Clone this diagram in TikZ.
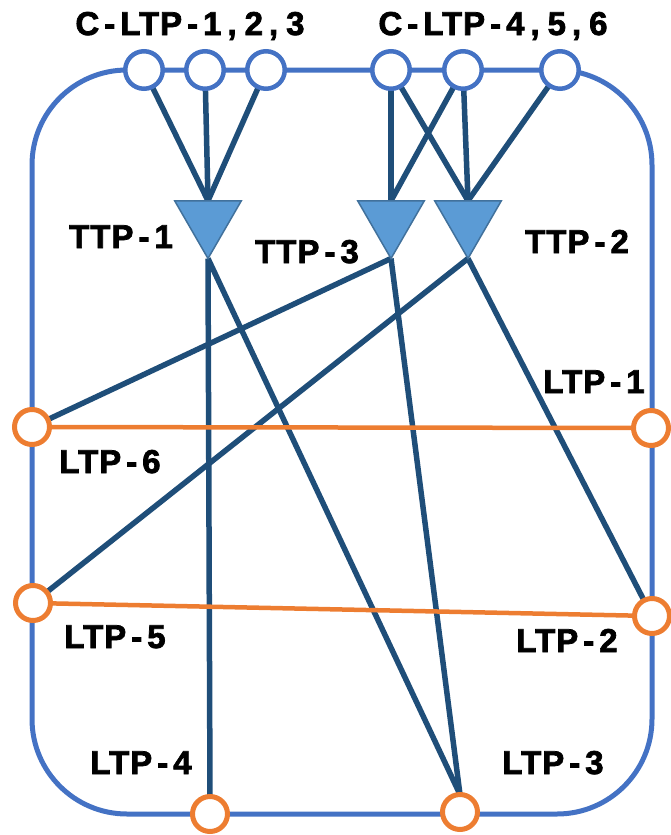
\documentclass[tikz,border=0pt]{standalone}
\usepackage{fontspec}
\setmainfont{Liberation Sans}
\newfontfamily\lblfont[LetterSpace=3,
  BoldFeatures={FakeBold=2.2}]{Liberation Sans}
\usetikzlibrary{shapes.geometric,backgrounds}
\definecolor{framecol}{HTML}{4472C4}
\definecolor{linkcol}{HTML}{1F4E79}
\definecolor{trifill}{HTML}{5B9BD5}
\definecolor{tribord}{HTML}{41719C}
\definecolor{ltpcol}{HTML}{ED7D31}
% widely spaced hyphen and comma used in the port names
\newcommand{\hy}{\kern5pt-\kern5pt}
\newcommand{\cm}{\kern6pt,\kern8pt}
\begin{document}
\begin{tikzpicture}[x=1pt,y=-1pt,
  frame/.style={draw=framecol, line width=5pt, rounded corners=95pt,
    minimum width=620pt, minimum height=744pt, inner sep=0pt, outer sep=0pt},
  cport/.style={circle, draw=framecol, fill=white, line width=4.5pt,
    minimum size=37.5pt, inner sep=0pt, outer sep=0pt},
  lport/.style={circle, draw=ltpcol, fill=white, line width=5pt,
    minimum size=35pt, inner sep=0pt, outer sep=0pt},
  ttp/.style={regular polygon, regular polygon sides=3, shape border rotate=180,
    draw=tribord, fill=trifill, line width=1.5pt, minimum size=77pt,
    inner sep=0pt, outer sep=0pt},
  link/.style={draw=linkcol, line width=5.5pt},
  ring/.style={draw=ltpcol, line width=4.5pt},
  lbl/.style={font=\lblfont\bfseries\fontsize{33}{33}\selectfont,
    anchor=base, inner sep=0pt}
]
\useasboundingbox (0,0) rectangle (671,835);

% client-side ports on the top edge
\node[cport] (c1) at (144,70) {};
\node[cport] (c2) at (205,70) {};
\node[cport] (c3) at (266,70) {};
\node[cport] (c4) at (391,70) {};
\node[cport] (c5) at (463,70) {};
\node[cport] (c6) at (560,70) {};

% line-side ports around the frame
\node[lport] (l6) at (32,427) {};
\node[lport] (l1) at (651,428) {};
\node[lport] (l5) at (33,603) {};
\node[lport] (l2) at (652,616) {};
\node[lport] (l4) at (210,814) {};
\node[lport] (l3) at (460,812) {};

% trail termination points
\node[ttp] (t1) at (208,220) {};
\node[ttp] (t3) at (391,220) {};
\node[ttp] (t2) at (468,220) {};

% labels
\node[lbl] (lc1) at (190,35) {C\hy LTP\hy 1\cm 2\cm 3};
\node[lbl] (lc2) at (493,35) {C\hy LTP\hy 4\cm 5\cm 6};
\node[lbl] (lt1) at (121,248) {TTP\hy 1};
\node[lbl] (lt3) at (307,263) {TTP\hy 3};
\node[lbl] (lt2) at (577,253) {TTP\hy 2};
\node[lbl] (ll1) at (594,393) {LTP\hy 1};
\node[lbl] (ll6) at (110,473) {LTP\hy 6};
\node[lbl] (ll5) at (115,648) {LTP\hy 5};
\node[lbl] (ll2) at (567,652) {LTP\hy 2};
\node[lbl] (ll4) at (141,774) {LTP\hy 4};
\node[lbl] (ll3) at (553,774) {LTP\hy 3};

\begin{pgfonlayer}{background}
  \node[frame] (box) at (342,442) {};
  % client ports to TTPs
  \draw[link] (c1) -- (t1.north);
  \draw[link] (c2) -- (t1.north);
  \draw[link] (c3) -- (t1.north);
  \draw[link] (c4) -- (t3.north);
  \draw[link] (c4) -- (t2.north);
  \draw[link] (c5) -- (t3.north);
  \draw[link] (c5) -- (t2.north);
  \draw[link] (c6) -- (t2.north);
  % TTPs to line ports
  \draw[link] (t1.south) -- (l4.north);
  \draw[link] (t1.south) -- (l3.north);
  \draw[link] (t3.south) -- (l6);
  \draw[link] (t3.south) -- (l3.north);
  \draw[link] (t2.south) -- (l5);
  \draw[link] (t2.south) -- (l2);
  % line connections, on top of the links
  \draw[ring] (l6) -- (l1);
  \draw[ring] (l5) -- (l2);
\end{pgfonlayer}
\end{tikzpicture}
\end{document}
